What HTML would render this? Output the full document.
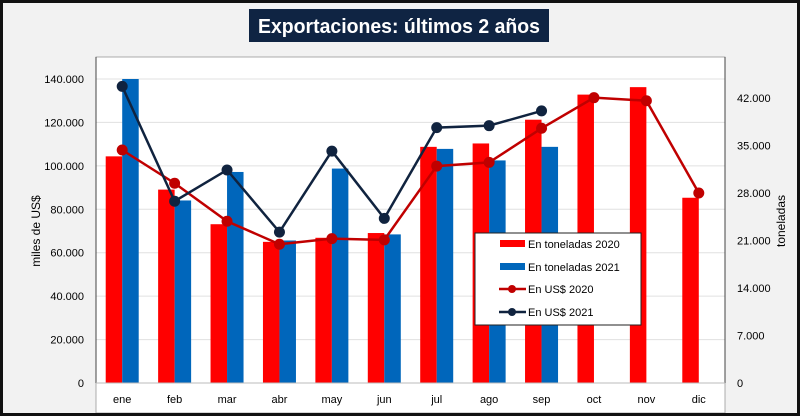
<!DOCTYPE html>
<html><head><meta charset="utf-8"><style>
html,body{margin:0;padding:0;background:#f2f2f2}
svg{display:block;font-family:"Liberation Sans",sans-serif}
</style></head><body>
<svg id="chart" width="800" height="416" viewBox="0 0 800 416" xmlns="http://www.w3.org/2000/svg">
<rect x="0" y="0" width="800" height="416" fill="#f2f2f2"/>
<rect x="96" y="57" width="629" height="356" fill="#fff" stroke="#999" stroke-width="0.8"/>
<rect x="1.5" y="1.5" width="797" height="413" fill="none" stroke="#111" stroke-width="3"/>
<rect x="249" y="9" width="300" height="33" fill="#0f2443"/>
<text x="258" y="33" textLength="282" lengthAdjust="spacingAndGlyphs" fill="#fff" font-size="20" font-weight="bold">Exportaciones: últimos 2 años</text>
<g id="grid"></g><g id="bars"></g><g id="lines"></g><g id="axes"></g>
<text transform="translate(40,231) rotate(-90)" text-anchor="middle" font-size="12" fill="#000">miles de US$</text>
<text transform="translate(785,221) rotate(-90)" text-anchor="middle" font-size="12" fill="#000">toneladas</text>
<g>
<rect x="475" y="233" width="166" height="92" fill="#fff" stroke="#222" stroke-width="1"/>
<rect x="500" y="240" width="25" height="7" fill="#ff0000"/>
<text x="528" y="248" font-size="11">En toneladas 2020</text>
<rect x="500" y="263" width="25" height="7" fill="#0066bb"/>
<text x="528" y="271" font-size="11">En toneladas 2021</text>
<line x1="499" y1="289" x2="526" y2="289" stroke="#c00000" stroke-width="2.5"/>
<circle cx="512" cy="289" r="4" fill="#c00000"/>
<text x="528" y="293" font-size="11">En US$ 2020</text>
<line x1="499" y1="312" x2="526" y2="312" stroke="#10233f" stroke-width="2.5"/>
<circle cx="512" cy="312" r="4" fill="#10233f"/>
<text x="528" y="316" font-size="11">En US$ 2021</text>
</g>
</svg>
<script>
const categories=["ene","feb","mar","abr","may","jun","jul","ago","sep","oct","nov","dic"];
const tons2020=[33400,28500,23400,20800,21400,22100,34800,35300,38800,42500,43600,27300];
const tons2021=[44800,26900,31100,21000,31600,21900,34500,32800,34800,null,null,null];
const usd2020=[107300,92000,74500,63900,66500,65900,99900,101600,117300,131400,130000,87500];
const usd2021=[136600,83700,98100,69500,106800,75800,117600,118500,125300,null,null,null];
const leftTicks=[0,20000,40000,60000,80000,100000,120000,140000];
const rightTicks=[0,7000,14000,21000,28000,35000,42000];
const NS="http://www.w3.org/2000/svg";
const X0=96,X1=725,Y0=383,Y1=79,LMAX=140000,RMAX=44800;
const bw=(X1-X0)/categories.length;
function xc(i){return X0+bw*(i+0.5);}
function yl(v){return Y0-(v/LMAX)*(Y0-Y1);}
function yr(v){return Y0-(v/RMAX)*(Y0-Y1);}
function mk(tag,attrs,parent){const e=document.createElementNS(NS,tag);for(const k in attrs)e.setAttribute(k,attrs[k]);document.getElementById(parent).appendChild(e);return e;}
const fmt=v=>v.toLocaleString('de-DE');
leftTicks.forEach(t=>{
 if(t>0){const g=mk('line',{x1:X0,x2:X1,y1:yl(t),y2:yl(t),stroke:'#e0e0e0','stroke-width':1},'grid');
 
 }
 const l=mk('text',{x:X0-12,y:yl(t)+4,'text-anchor':'end','font-size':11},'axes');l.textContent=fmt(t);
 
 
});
rightTicks.forEach(t=>{
 const l=mk('text',{x:X1+12,y:yr(t)+4,'text-anchor':'start','font-size':11},'axes');l.textContent=fmt(t);
 
 
});
const bW=16.5;
categories.forEach((c,i)=>{
 const r=mk('rect',{x:xc(i)-bW,y:yr(tons2020[i]),width:bW,height:Y0-yr(tons2020[i]),fill:'#ff0000'},'bars');
 
 
 if(tons2021[i]!=null){const b=mk('rect',{x:xc(i),y:yr(tons2021[i]),width:bW,height:Y0-yr(tons2021[i]),fill:'#0066bb'},'bars');
 
 }
 const t=mk('text',{x:xc(i),y:403,'text-anchor':'middle','font-size':11},'axes');t.textContent=c;
 
 
});
const ax=mk('line',{x1:X0,x2:X0,y1:57,y2:Y0,stroke:'#444','stroke-width':1},'axes');


const ax2=mk('line',{x1:X1,x2:X1,y1:57,y2:Y0,stroke:'#444','stroke-width':1},'axes');


const ax3=mk('line',{x1:X0,x2:X1,y1:Y0,y2:Y0,stroke:'#bbb','stroke-width':1},'axes');


function drawLine(vals,color,name){
 const pts=[];vals.forEach((v,i)=>{if(v!=null)pts.push([xc(i),yl(v)]);});
 const p=mk('polyline',{points:pts.map(q=>q.join(',')).join(' '),fill:'none',stroke:color,'stroke-width':2.5},'lines');
 
 
 pts.forEach(q=>{const c=mk('circle',{cx:q[0],cy:q[1],r:5.5,fill:color},'lines');
 
 });
}
drawLine(usd2020,'#c00000','usd-2020');
drawLine(usd2021,'#10233f','usd-2021');
</script>
</body></html>
